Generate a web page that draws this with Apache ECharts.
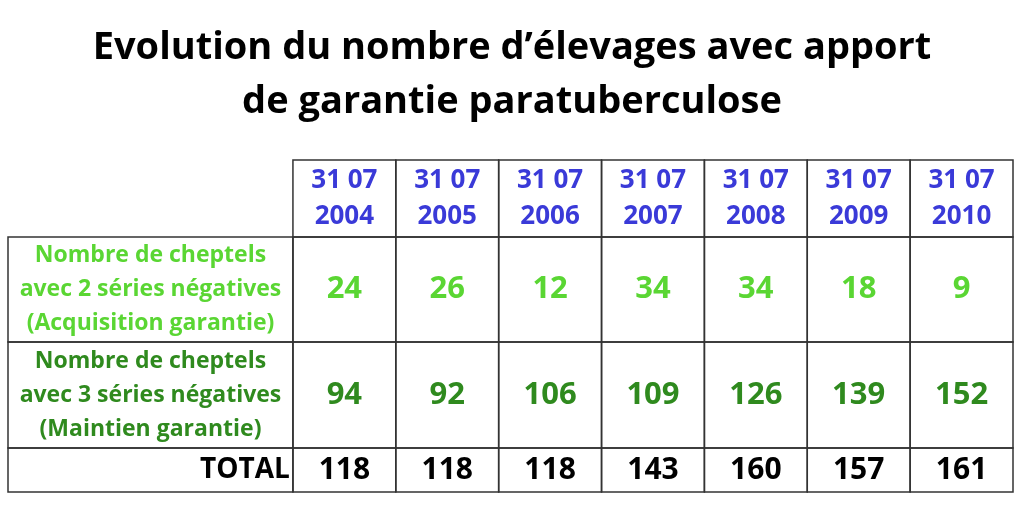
<!DOCTYPE html>
<html><head><meta charset="utf-8">
<script src="https://cdn.jsdelivr.net/npm/echarts@6/dist/echarts.min.js"></script>
<style>html,body{margin:0;background:#fff}#c{width:1024px;height:506px}</style></head>
<body><div id="c"></div>
<script>
const titleText = "Evolution du nombre d’élevages avec apport\nde garantie paratuberculose";
const years = ["31 07\n2004","31 07\n2005","31 07\n2006","31 07\n2007","31 07\n2008","31 07\n2009","31 07\n2010"];
const rowLabels = ["Nombre de cheptels\navec 2 séries négatives\n(Acquisition garantie)","Nombre de cheptels\navec 3 séries négatives\n(Maintien garantie)","TOTAL"];
const acquisition = [24,26,12,34,34,18,9];
const maintien = [94,92,106,109,126,139,152];
const total = [118,118,118,143,160,157,161];
const rowEdges = [0,77,182,288,332];
const labelColWidth = 2.77;

const rowColors = ["#3a3ad8","#5ad633","#2f8a1e","#000"];
const cells = [];
years.forEach((y,i)=>cells.push({value:[i,0],txt:y,r:0}));
rowLabels.forEach((l,j)=>cells.push({value:[-1,j+1],txt:l,r:j+1,lab:true}));
[acquisition,maintien,total].forEach((arr,j)=>arr.forEach((v,i)=>cells.push({value:[i,j+1],txt:String(v),r:j+1})));

const chart = echarts.init(document.getElementById('c'));
chart.setOption({
  animation:false,
  title:{text:titleText,left:'center',top:16,textStyle:{fontFamily:'Open Sans',fontWeight:'bold',fontSize:38,lineHeight:54,color:'#000'}},
  grid:{left:8,right:11,top:160,bottom:14},
  xAxis:{type:'value',min:-labelColWidth,max:7,show:false},
  yAxis:{type:'value',min:0,max:332,inverse:true,show:false},
  series:[{type:'custom',data:cells,renderItem:(params,api)=>{
    const c=api.value(0), r=api.value(1);
    const d=cells[params.dataIndex];
    const x0=c<0?-labelColWidth:c, x1=c<0?0:c+1;
    const p0=api.coord([x0,rowEdges[r]]), p1=api.coord([x1,rowEdges[r+1]]);
    const fs = r===0?26:(d.lab?(r===3?28:23):(r===3?30:31));
    return {type:'group',children:[
      {type:'rect',shape:{x:p0[0],y:p0[1],width:p1[0]-p0[0],height:p1[1]-p0[1]},style:{fill:'none',stroke:'#333',lineWidth:1.5}},
      {type:'text',style:{text:d.txt,x:d.lab&&r===3?p1[0]-3:(p0[0]+p1[0])/2,y:(p0[1]+p1[1])/2,align:d.lab&&r===3?'right':'center',verticalAlign:'middle',
        fill:rowColors[r],fontFamily:'Open Sans',fontWeight:'bold',fontSize:fs,lineHeight:r===0?36:(d.lab?34:fs)}}
    ]};
  }}]
});
</script></body></html>
